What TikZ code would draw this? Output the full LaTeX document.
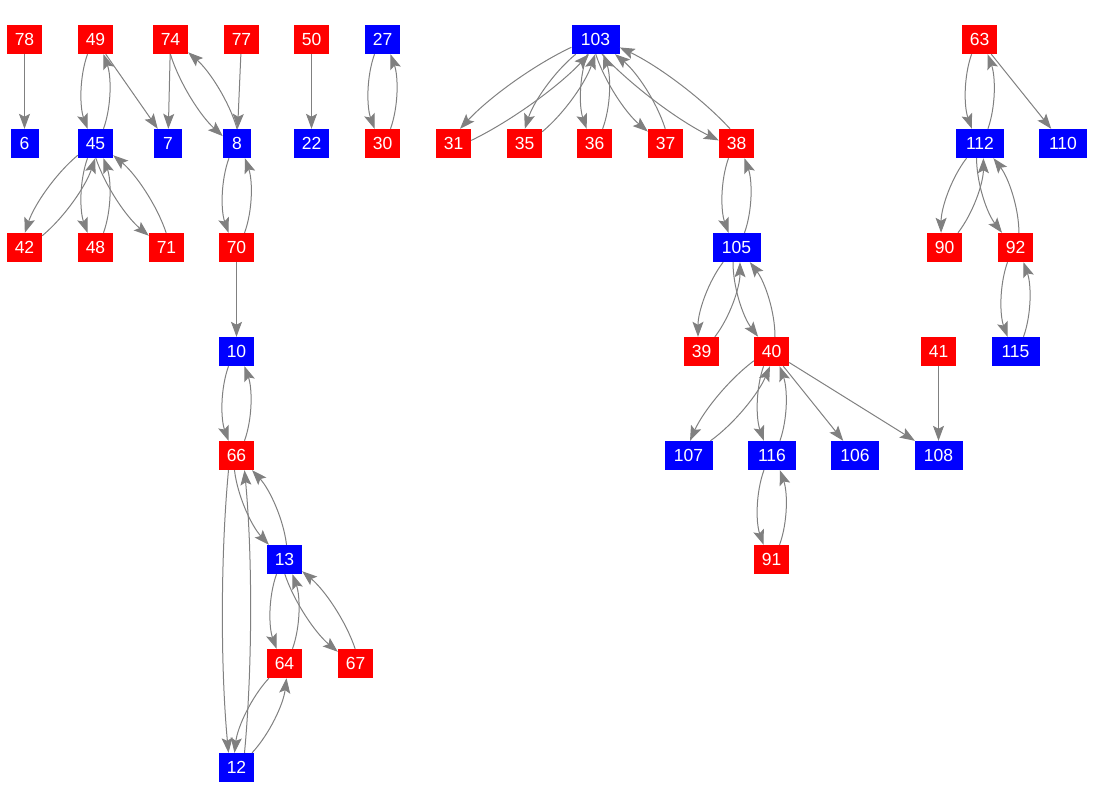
\documentclass[tikz,border=0pt]{standalone}
\usepackage{fontspec}
\setmainfont{Liberation Sans}
\usetikzlibrary{arrows.meta,calc}
\newcommand{\pshift}{8}
\newcommand{\pbulge}{8}
\tikzset{
  nd/.style={rectangle, inner sep=0pt, minimum height=29pt, text=white, font=\fontsize{17.5}{17.5}\selectfont},
  rn/.style={nd, fill=red, minimum width=35pt},
  bn/.style={nd, fill=blue, minimum width=35pt},
  wone/.style={minimum width=28pt},
  wthree/.style={minimum width=48pt},
  ed/.style={draw=gray, line width=1pt, -{Stealth[length=15pt,width=11pt,inset=3pt]}},
  pr/.style={ed, to path={
    let \p1=(\tikztostart.center), \p2=(\tikztotarget.center),
        \p3=(\tikztostart.north east), \p4=(\tikztotarget.north east),
        \n{L}={max(veclen(\x2-\x1,\y2-\y1),1pt)},
        \n{ux}={(\x2-\x1)/\n{L}},
        \n{uy}={(\y2-\y1)/\n{L}},
        \n{ax}={max(abs(\n{ux}),0.003)},
        \n{ay}={max(abs(\n{uy}),0.003)},
        \n{sx}={sign(\n{ux})},
        \n{sy}={sign(\n{uy})},
        \n{ox}={\pshift*\n{uy}},
        \n{oy}={-\pshift*\n{ux}},
        \n{w1}={\x3-\x1}, \n{h1}={\y3-\y1},
        \n{w2}={\x4-\x2}, \n{h2}={\y4-\y2},
        \n{ta}={min((\n{w1}-\n{ox}*\n{sx})/\n{ax},(\n{h1}-\n{oy}*\n{sy})/\n{ay})},
        \n{tb}={min((\n{w2}+\n{ox}*\n{sx})/\n{ax},(\n{h2}+\n{oy}*\n{sy})/\n{ay})},
        \n{Sx}={\x1+\n{ox}+\n{ta}*\n{ux}},
        \n{Sy}={\y1+\n{oy}+\n{ta}*\n{uy}},
        \n{Ex}={\x2+\n{ox}-\n{tb}*\n{ux}},
        \n{Ey}={\y2+\n{oy}-\n{tb}*\n{uy}},
        \n{D}={0.3*(\n{L}-\n{ta}-\n{tb})},
        \n{C1x}={\n{Sx}+\n{D}*\n{ux}+\pbulge*\n{uy}},
        \n{C1y}={\n{Sy}+\n{D}*\n{uy}-\pbulge*\n{ux}},
        \n{C2x}={\n{Ex}-\n{D}*\n{ux}+\pbulge*\n{uy}},
        \n{C2y}={\n{Ey}-\n{D}*\n{uy}-\pbulge*\n{ux}}
    in (\n{Sx},\n{Sy}) .. controls (\n{C1x},\n{C1y}) and (\n{C2x},\n{C2y}) .. (\n{Ex},\n{Ey})
  }}
}
\begin{document}
\begin{tikzpicture}[x=1pt,y=-1pt]
\useasboundingbox (0,0) rectangle (1096,808);
% row 1
\node[rn] (n78) at (24.5,39.5) {78};
\node[rn] (n49) at (95.5,39.5) {49};
\node[rn] (n74) at (170.5,39.5) {74};
\node[rn] (n77) at (241.5,39.5) {77};
\node[rn] (n50) at (311.5,39.5) {50};
\node[bn] (n27) at (382.5,39.5) {27};
\node[bn,wthree] (n103) at (595.5,39.5) {103};
\node[rn] (n63) at (979.5,39.5) {63};
% row 2
\node[bn,wone] (n6) at (24.5,143.5) {6};
\node[bn] (n45) at (95.5,143.5) {45};
\node[bn,wone] (n7) at (168,143.5) {7};
\node[bn,wone] (n8) at (237,143.5) {8};
\node[bn] (n22) at (311.5,143.5) {22};
\node[rn] (n30) at (382.5,143.5) {30};
\node[rn] (n31) at (453.5,143.5) {31};
\node[rn] (n35) at (524.5,143.5) {35};
\node[rn] (n36) at (594.5,143.5) {36};
\node[rn] (n37) at (665.5,143.5) {37};
\node[rn] (n38) at (736.5,143.5) {38};
\node[bn,wthree] (n112) at (980,143.5) {112};
\node[bn,wthree] (n110) at (1063,143.5) {110};
% row 3
\node[rn] (n42) at (24.5,247.5) {42};
\node[rn] (n48) at (95.5,247.5) {48};
\node[rn] (n71) at (166.5,247.5) {71};
\node[rn] (n70) at (236.5,247.5) {70};
\node[bn,wthree] (n105) at (736.5,247.5) {105};
\node[rn] (n90) at (944.5,247.5) {90};
\node[rn] (n92) at (1015.5,247.5) {92};
% row 4
\node[bn] (n10) at (236.5,351.5) {10};
\node[rn] (n39) at (701.5,351.5) {39};
\node[rn] (n40) at (771.5,351.5) {40};
\node[rn] (n41) at (938.5,351.5) {41};
\node[bn,wthree] (n115) at (1015.5,351.5) {115};
% row 5
\node[rn] (n66) at (236.5,455.5) {66};
\node[bn,wthree] (n107) at (688.5,455.5) {107};
\node[bn,wthree] (n116) at (772,455.5) {116};
\node[bn,wthree] (n106) at (855,455.5) {106};
\node[bn,wthree] (n108) at (938.5,455.5) {108};
% row 6
\node[bn] (n13) at (284.5,559.5) {13};
\node[rn] (n91) at (771.5,559.5) {91};
% row 7
\node[rn] (n64) at (284.5,663.5) {64};
\node[rn] (n67) at (355.5,663.5) {67};
% row 8
\node[bn] (n12) at (236.5,767.5) {12};

% single edges
\draw[ed] (n78) -- (n6);
\draw[ed] (n49) -- (n7);
\draw[ed] (n74) -- (n7);
\draw[ed] (n77) -- (n8);
\draw[ed] (n50) -- (n22);
\draw[ed] (n70) -- (n10);
\draw[ed] (n40) -- (n106);
\draw[ed] (n40) -- (n108);
\draw[ed] (n41) -- (n108);
\draw[ed] (n63) -- (n110);
% pairs
\draw[pr] (n49) to (n45);  \draw[pr] (n45) to (n49);
\draw[pr] (n74) to (n8);   \draw[pr] (n8) to (n74);
\draw[pr] (n27) to (n30);  \draw[pr] (n30) to (n27);
\draw[pr] (n45) to (n42);  \draw[pr] (n42) to (n45);
\draw[pr] (n45) to (n48);  \draw[pr] (n48) to (n45);
\draw[pr] (n45) to (n71);  \draw[pr] (n71) to (n45);
\draw[pr] (n8) to (n70);   \draw[pr] (n70) to (n8);
\draw[pr] (n10) to (n66);  \draw[pr] (n66) to (n10);
\draw[pr] (n66) to (n13);  \draw[pr] (n13) to (n66);
\draw[pr] (n66) to (n12);  \draw[pr] (n12) to (n66);
\draw[pr] (n13) to (n64);  \draw[pr] (n64) to (n13);
\draw[pr] (n13) to (n67);  \draw[pr] (n67) to (n13);
\draw[pr] (n64) to (n12);  \draw[pr] (n12) to (n64);
\draw[pr] (n103) to (n31); \draw[pr] (n31) to (n103);
\draw[pr] (n103) to (n35); \draw[pr] (n35) to (n103);
\draw[pr] (n103) to (n36); \draw[pr] (n36) to (n103);
\draw[pr] (n103) to (n37); \draw[pr] (n37) to (n103);
\draw[pr] (n103) to (n38); \draw[pr] (n38) to (n103);
\draw[pr] (n38) to (n105); \draw[pr] (n105) to (n38);
\draw[pr] (n105) to (n39); \draw[pr] (n39) to (n105);
\draw[pr] (n105) to (n40); \draw[pr] (n40) to (n105);
\draw[pr] (n40) to (n107); \draw[pr] (n107) to (n40);
\draw[pr] (n40) to (n116); \draw[pr] (n116) to (n40);
\draw[pr] (n116) to (n91); \draw[pr] (n91) to (n116);
\draw[pr] (n63) to (n112); \draw[pr] (n112) to (n63);
\draw[pr] (n112) to (n90); \draw[pr] (n90) to (n112);
\draw[pr] (n112) to (n92); \draw[pr] (n92) to (n112);
\draw[pr] (n92) to (n115); \draw[pr] (n115) to (n92);
\end{tikzpicture}
\end{document}
